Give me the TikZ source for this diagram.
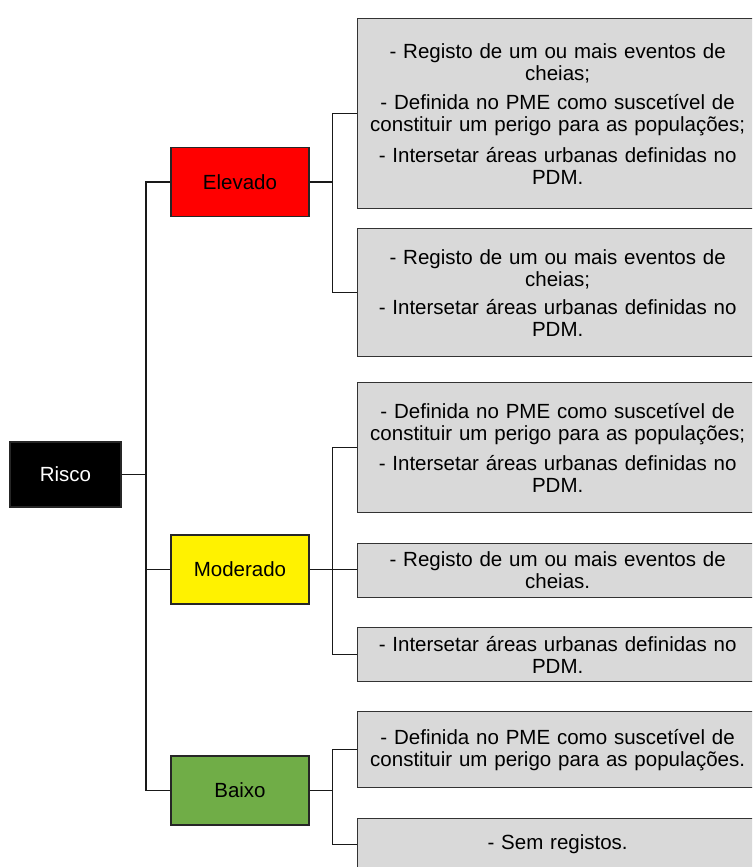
\documentclass[tikz,border=0pt]{standalone}
\usepackage{fontspec}
\setmainfont{Liberation Sans}
\definecolor{crit}{HTML}{D9D9D9}
\definecolor{baixogreen}{HTML}{70AD47}
\tikzset{
  level/.style={draw=black!85, line width=1.2pt, minimum width=138pt, minimum height=69pt, font=\fontsize{20.5}{24}\selectfont},
  crit/.style={draw=black!80, fill=crit, line width=1.3pt, anchor=north west, minimum width=400pt, text width=396pt, align=center, inner sep=0pt, font=\fontsize{20.5}{22}\selectfont},
  link/.style={line width=1.1pt, black!90}
}
\begin{document}
\begin{tikzpicture}[x=1pt,y=-1pt]
\useasboundingbox (0,0) rectangle (752,867);
\clip (0,0) rectangle (752,867);

\node[level, fill=black, text=white, minimum width=111pt, minimum height=65pt] (risco) at (65.5,474.5) {Risco};

\node[level, fill=red] (elevado) at (240,182) {Elevado};
\node[level, fill=yellow] (moderado) at (240,569.5) {Moderado};
\node[level, fill=baixogreen] (baixo) at (240,790.5) {Baixo};

% criterios
\node[crit, minimum height=190pt] (e1) at (357,18) {- Registo de um ou mais eventos de\\cheias;\\[7pt]- Definida no PME como suscet\'ivel de\\constituir um perigo para as popula\c{c}\~oes;\\[9pt]- Intersetar \'areas urbanas definidas no\\PDM.};
\node[crit, minimum height=128pt] (e2) at (357,228) {- Registo de um ou mais eventos de\\cheias;\\[6pt]- Intersetar \'areas urbanas definidas no\\PDM.};

\node[crit, minimum height=130pt] (m1) at (357,382) {- Definida no PME como suscet\'ivel de\\constituir um perigo para as popula\c{c}\~oes;\\[8pt]- Intersetar \'areas urbanas definidas no\\PDM.};
\node[crit, minimum height=54pt] (m2) at (357,543) {- Registo de um ou mais eventos de\\cheias.};
\node[crit, minimum height=54pt] (m3) at (357,627) {- Intersetar \'areas urbanas definidas no\\PDM.};

\node[crit, minimum height=76pt] (b1) at (357,711) {- Definida no PME como suscet\'ivel de\\constituir um perigo para as popula\c{c}\~oes.};
\node[crit, minimum height=52pt] (b2) at (357,818) {- Sem registos.};

% ligacoes
\coordinate (trunk) at (146,474.5);
\draw[link] (risco.east) -- (trunk);
\draw[link] (elevado.west) -| (trunk) |- (baixo.west);
\draw[link] (moderado.west) -- (moderado.west -| trunk);

\draw[link] (elevado.east) -- ++(23,0) coordinate (ej);
\draw[link] (e1.west) -| (ej) |- (e2.west);

\draw[link] (moderado.east) -- ++(23,0) coordinate (mj);
\draw[link] (m1.west) -| (mj) |- (m3.west);
\draw[link] (moderado.east) -- (moderado.east -| m2.west);

\draw[link] (baixo.east) -- ++(23,0) coordinate (bj);
\draw[link] (b1.west) -| (bj) |- (b2.west);

\end{tikzpicture}
\end{document}
